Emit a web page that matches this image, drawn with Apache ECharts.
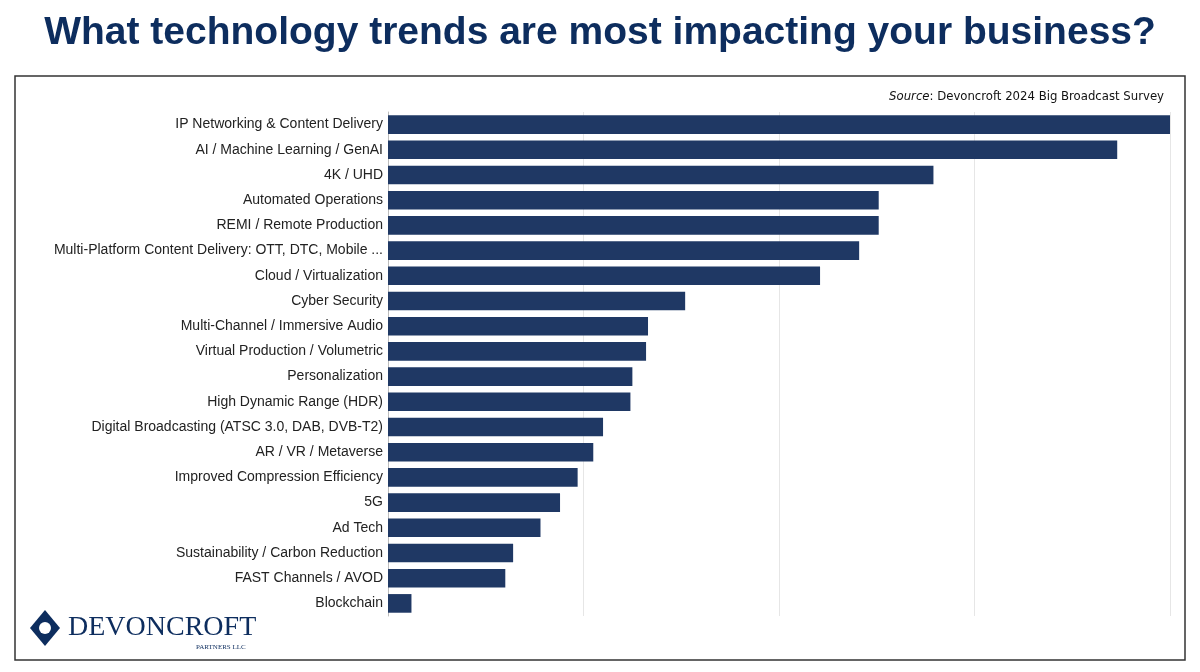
<!DOCTYPE html>
<html lang="en">
<head>
  <meta charset="UTF-8" />
  <title>Technology trends</title>
  <script src="https://cdn.jsdelivr.net/npm/echarts@6/dist/echarts.min.js"></script>
</head>
<body style="margin:0;background:#fff;">
  <div id="main" style="width:1200px;height:672px;"></div>
  <script type="text/javascript">
    // categories, top to bottom
    let categories = [
      'IP Networking & Content Delivery',
      'AI / Machine Learning / GenAI',
      '4K / UHD',
      'Automated Operations',
      'REMI / Remote Production',
      'Multi-Platform Content Delivery: OTT, DTC, Mobile ...',
      'Cloud / Virtualization',
      'Cyber Security',
      'Multi-Channel / Immersive Audio',
      'Virtual Production / Volumetric',
      'Personalization',
      'High Dynamic Range (HDR)',
      'Digital Broadcasting (ATSC 3.0, DAB, DVB-T2)',
      'AR / VR / Metaverse',
      'Improved Compression Efficiency',
      '5G',
      'Ad Tech',
      'Sustainability / Carbon Reduction',
      'FAST Channels / AVOD',
      'Blockchain'
    ];
    // relative scores
    let scores = [4.0, 3.73, 2.79, 2.51, 2.51, 2.41, 2.21, 1.52, 1.33, 1.32,
                  1.25, 1.24, 1.10, 1.05, 0.97, 0.88, 0.78, 0.64, 0.60, 0.12];

    let barColor = '#1f3864';
    let navy = '#0d2d5e';

    var myChart = echarts.init(document.getElementById('main'));
    myChart.setOption({
      animation: false,
      title: {
        text: 'What technology trends are most impacting your business?',
        left: 'center',
        top: 9,
        textStyle: { color: navy, fontSize: 39, fontWeight: 'bold', fontFamily: 'Liberation Sans' }
      },
      grid: { left: 388, right: 30, top: 112, bottom: 56 },
      xAxis: {
        type: 'value',
        min: 0, max: 4, interval: 1,
        axisLabel: { show: false },
        axisLine: { show: false },
        axisTick: { show: false },
        splitLine: { lineStyle: { color: '#e6e6e6' } }
      },
      yAxis: {
        type: 'category',
        inverse: true,
        data: categories,
        axisTick: { show: false },
        axisLine: { lineStyle: { color: '#bdbdbd' } },
        axisLabel: { color: '#222', fontSize: 14, fontFamily: 'Liberation Sans', margin: 5 }
      },
      series: [{
        type: 'bar',
        data: scores,
        barCategoryGap: '26%',
        itemStyle: { color: barColor }
      }],
      graphic: [
        { type: 'rect', shape: { x: 15, y: 76, width: 1170, height: 584 },
          style: { fill: 'none', stroke: '#333', lineWidth: 1.5 } },
        { type: 'text', right: 36, top: 90,
          style: { rich: { i: { fontStyle: 'italic', fontSize: 13, fontFamily: 'DejaVu Sans Condensed, Liberation Sans' },
                           n: { fontSize: 13, fontFamily: 'DejaVu Sans Condensed, Liberation Sans' } },
                   text: '{i|Source}{n|: Devoncroft 2024 Big Broadcast Survey}', fill: '#111' } },
        { type: 'polygon', shape: { points: [[45, 610], [60, 628], [45, 646], [30, 628]] },
          style: { fill: navy } },
        { type: 'circle', shape: { cx: 45, cy: 628, r: 6 }, style: { fill: '#fff' } },
        { type: 'text', left: 68, top: 614,
          style: { text: 'DEVONCROFT', fill: navy, fontSize: 28, fontFamily: 'Liberation Serif' } },
        { type: 'text', left: 196, top: 644,
          style: { text: 'PARTNERS LLC', fill: navy, fontSize: 7, fontFamily: 'Liberation Serif' } }
      ]
    });
  </script>
</body>
</html>
